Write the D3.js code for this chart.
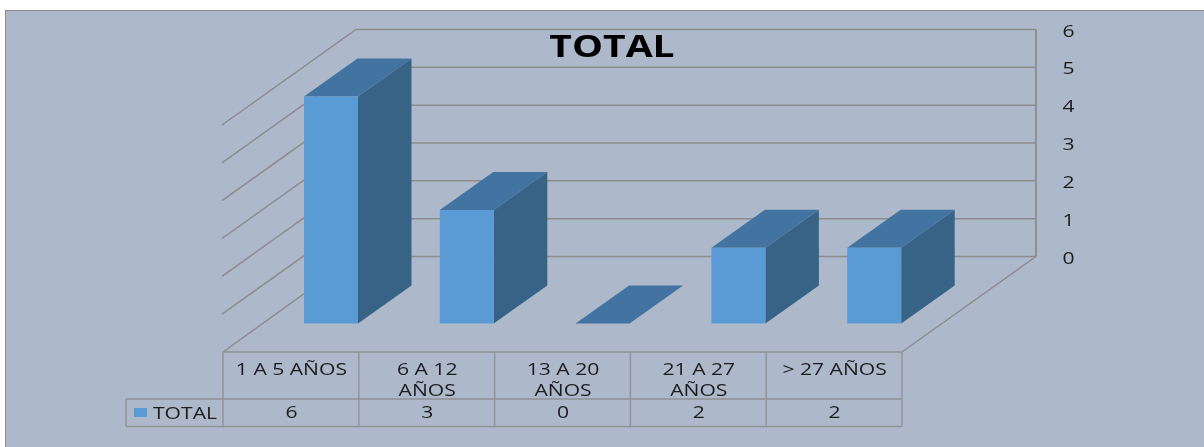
<!DOCTYPE html>
<html><head><meta charset="utf-8">
<script src="https://cdn.jsdelivr.net/npm/d3@7"></script>
<style>
html,body{margin:0;padding:0;background:#fff}
svg{display:block;filter:blur(0.35px)}
text{font-family:"Open Sans",sans-serif;fill:#1c1c1c}
</style></head><body>
<svg id="c" width="1204" height="447"></svg>
<script>
const categories=["1 A 5 AÑOS","6 A 12 AÑOS","13 A 20 AÑOS","21 A 27 AÑOS","> 27 AÑOS"];
const seriesName="TOTAL";
const totals=[6,3,0,2,2];
const valueTicks=[0,1,2,3,4,5,6];
const title="TOTAL";

const W=1204,H=447;
const BG="#adb8ca",GRID="#8c8c8c",FRONT="#5b9bd5",TOP="#4374a1",SIDE="#376387",CELL="#8f9296";
const STRETCH=1.32;
const svg=d3.select("#c");
svg.append("rect").attr("x",5.5).attr("y",10.5).attr("width",W+10).attr("height",H+10)
  .attr("fill",BG).attr("stroke",GRID).attr("stroke-width",1);

// geometry of the 3D box
const floorFront=352,floorBack=256.5,leftFront=223,leftBack=356,rightFront=902,rightBack=1036;
const y=d3.scaleLinear().domain([0,6]).range([floorBack,29.5]);
const h=v=>y(0)-y(v);
const x=d3.scaleBand().domain(categories).range([leftFront,rightFront]);

// walls
const grid=svg.append("g").attr("fill","none").attr("stroke",GRID).attr("stroke-width",1.5);
grid.selectAll("polyline.g").data(valueTicks).join("polyline").attr("class","g")
  .attr("points",v=>[[leftFront-(v?1:0),floorFront-h(v)],[leftBack,y(v)],[rightBack,y(v)]].join(" "));
grid.append("line").attr("x1",rightBack).attr("x2",rightBack).attr("y1",y(6)).attr("y2",y(0)).attr("stroke-width",1.8);
grid.append("polyline").attr("points",[[rightBack,y(0)],[rightFront,floorFront]].join(" "));

// value axis
const axis=d3.axisRight(y).tickValues(valueTicks).tickSize(0).tickPadding(0).tickFormat(d3.format("d"));
const ax=svg.append("g").attr("transform","translate(1062.5,1.5)").call(axis);
ax.select(".domain").remove();
ax.selectAll("text").attr("font-size",16).attr("font-family",'"Open Sans",sans-serif').attr("fill","#1c1c1c")
  .attr("x",0).attr("transform",`scale(${STRETCH},1)`);

// bars
const barBase=323.5,barW=54,barDX=53.5,barDY=38,barOff=81;
const bars=svg.append("g").selectAll("g").data(categories.map((c,i)=>({c,v:totals[i]}))).join("g");
bars.each(function(d){
  const g=d3.select(this),x0=x(d.c)+barOff,x1=x0+barW,t=barBase-h(d.v);
  g.append("polygon").attr("fill",SIDE).attr("points",[[x1,barBase],[x1+barDX,barBase-barDY],[x1+barDX,t-barDY],[x1,t]].join(" "));
  g.append("polygon").attr("fill",TOP).attr("points",[[x0,t],[x0+barDX,t-barDY],[x1+barDX,t-barDY],[x1,t]].join(" "));
  if(d.v>0) g.append("rect").attr("x",x0).attr("y",t).attr("width",barW).attr("height",h(d.v)).attr("fill",FRONT);
});

// stretched text helper
function label(px,py,str,size,anchor,sx){
  return svg.append("text").attr("transform",`translate(${px},${py}) scale(${sx||STRETCH},1)`)
    .attr("text-anchor",anchor||"middle").attr("font-size",size).text(str);
}

// title
label(612,57,title,31,"middle",1.26).attr("font-weight",700).style("fill","#000");

// data table
const rowA=floorFront,rowB=399,rowC=426.5,legendLeft=126;
const tbl=svg.append("g").attr("stroke",CELL).attr("stroke-width",1.4).attr("fill","none");
tbl.append("line").attr("x1",leftFront).attr("x2",rightFront).attr("y1",rowA).attr("y2",rowA);
tbl.append("line").attr("x1",legendLeft).attr("x2",rightFront).attr("y1",rowB).attr("y2",rowB);
tbl.append("line").attr("x1",legendLeft).attr("x2",rightFront).attr("y1",rowC).attr("y2",rowC);
tbl.append("line").attr("x1",legendLeft).attr("x2",legendLeft).attr("y1",rowB).attr("y2",rowC);
[...categories.map(c=>x(c)),rightFront].forEach(px=>
  tbl.append("line").attr("x1",px).attr("x2",px).attr("y1",rowA).attr("y2",rowC));

const fs=16;
categories.forEach((c,i)=>{
  const cx=x(c)+x.bandwidth()/2+0.5;
  const lines=c.length>10?[c.replace(" AÑOS",""),"AÑOS"]:[c];
  lines.forEach((l,k)=>label(cx,375+k*21,l,fs));
  label(cx,418,totals[i],fs);
});
svg.append("rect").attr("x",134).attr("y",408).attr("width",13).attr("height",9).attr("fill",FRONT);
label(153,418.5,seriesName,fs,"start");
</script></body></html>
